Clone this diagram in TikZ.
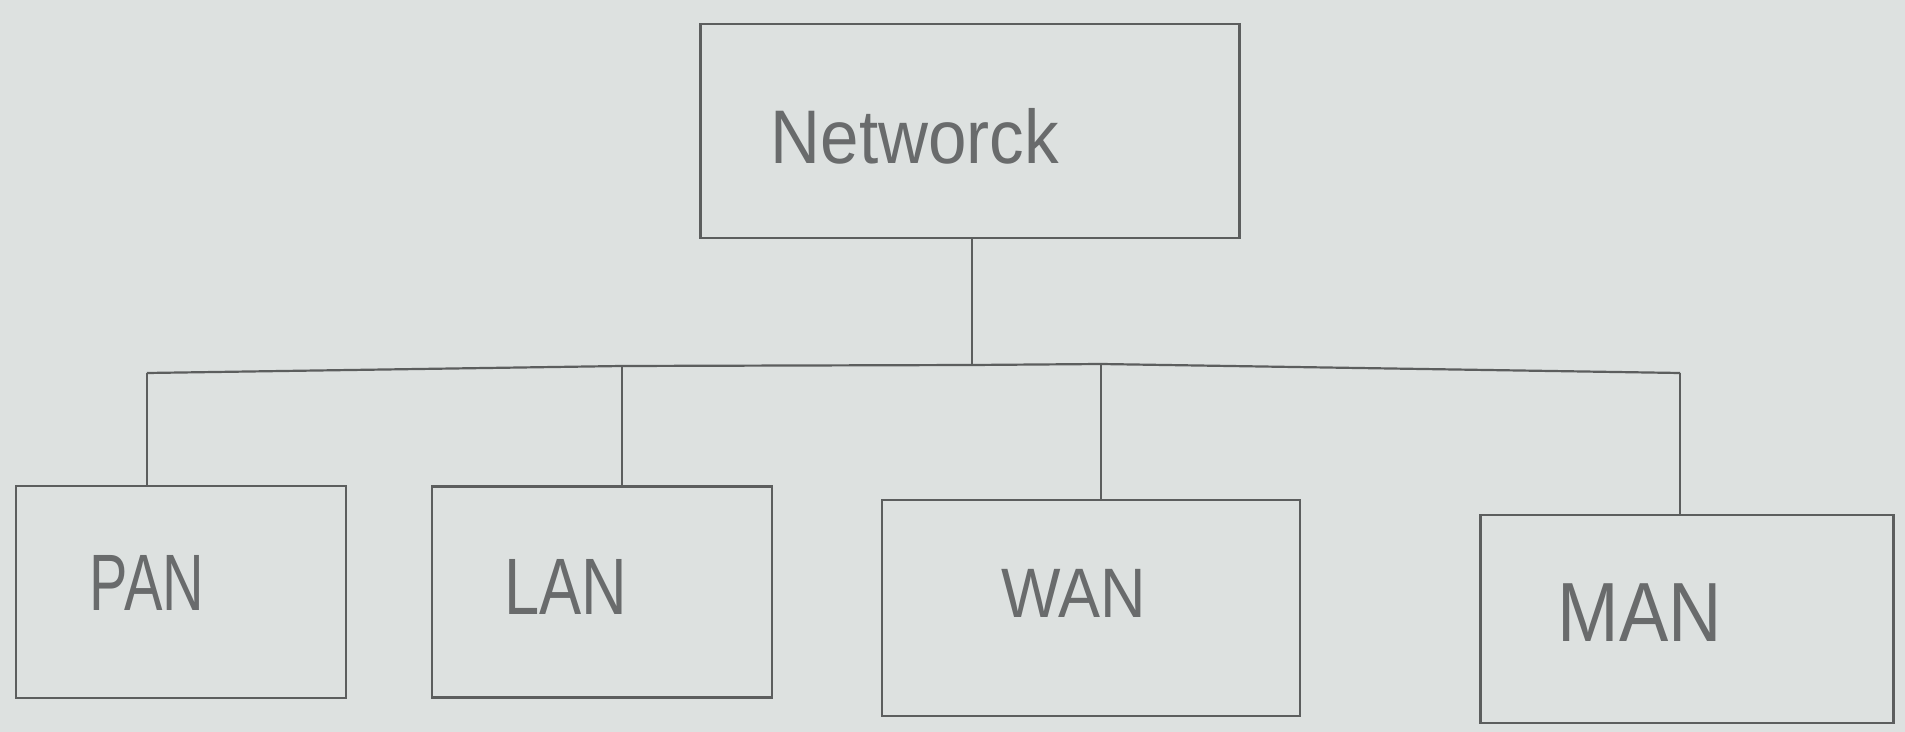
\documentclass[tikz,border=0pt]{standalone}
\usepackage{fontspec}
\usepackage{graphicx}
\setmainfont{Liberation Sans}
\definecolor{paper}{RGB}{221,225,224}
\definecolor{pencil}{RGB}{92,94,94}
\definecolor{pentext}{RGB}{105,107,108}
\tikzset{
  boxn/.style={draw=pencil, line width=1.3pt, rectangle, inner sep=0pt},
  lbl/.style={text=pentext, inner sep=0pt, anchor=center},
  wire/.style={draw=pencil, line width=1.1pt}
}
\begin{document}
\begin{tikzpicture}[x=0.5pt,y=-0.5pt]
\useasboundingbox (0,0) rectangle (1905,732);
\fill[paper] (0,0) rectangle (1905,732);
% boxes
\node[boxn, minimum width=269.5pt, minimum height=107pt] (net) at (970,131) {};
\node[boxn, minimum width=165pt, minimum height=106pt] (pan) at (181,592) {};
\node[boxn, minimum width=170pt, minimum height=105.5pt] (lan) at (602,592) {};
\node[boxn, minimum width=209pt, minimum height=108pt] (wan) at (1091,608) {};
\node[boxn, minimum width=206.5pt, minimum height=104pt] (man) at (1687,619) {};
% labels
\node[lbl] (nett) at (915,136) {\fontsize{38}{38}\selectfont\scalebox{0.91}[1]{Networck}};
\node[lbl] (pant) at (147,583) {\fontsize{40}{40}\selectfont\scalebox{0.72}[1]{PAN}};
\node[lbl] (lant) at (566,587) {\fontsize{40}{40}\selectfont\scalebox{0.79}[1]{LAN}};
\node[lbl] (want) at (1074,593) {\fontsize{35}{35}\selectfont\scalebox{0.9}[1]{WAN}};
\node[lbl] (mant) at (1640,613) {\fontsize{42}{42}\selectfont\scalebox{0.88}[1]{MAN}};
% bus
\coordinate (j0) at (972,365);
\coordinate (b1) at (147,373);
\coordinate (b2) at (622,366);
\coordinate (b3) at (1101,364);
\coordinate (b4) at (1680,373);
\draw[wire] (net.south -| j0) -- (j0);
\draw[wire] (b1) -- (b2) -- (j0) -- (b3) -- (b4);
\draw[wire] (b1) -- (b1 |- pan.north);
\draw[wire] (b2) -- (b2 |- lan.north);
\draw[wire] (b3) -- (b3 |- wan.north);
\draw[wire] (b4) -- (b4 |- man.north);
\end{tikzpicture}
\end{document}
